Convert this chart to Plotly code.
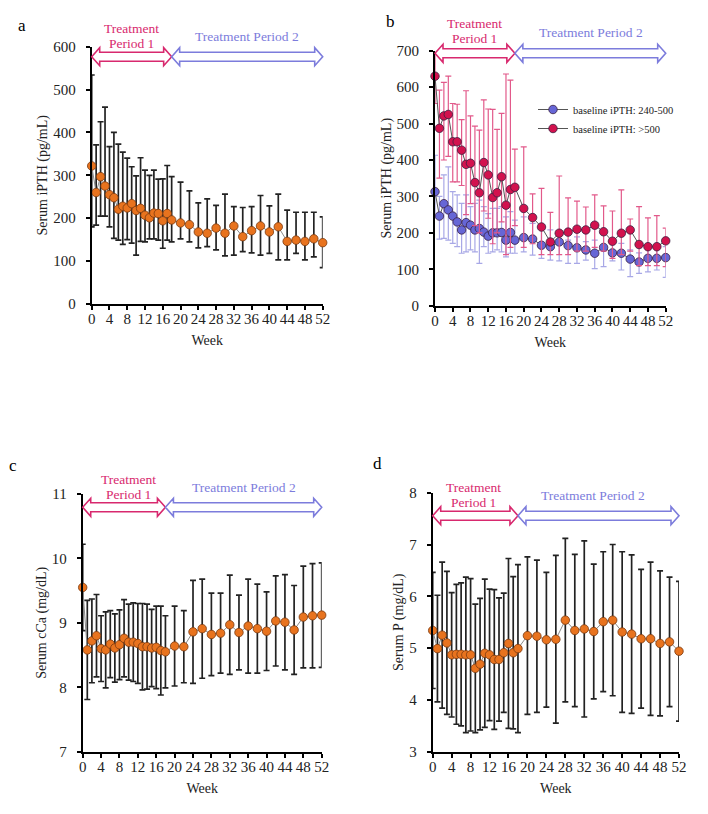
import plotly.graph_objects as go

# weeks: weekly to 18, then every 2 weeks
weeks = list(range(0, 19)) + list(range(20, 53, 2))

# a: serum iPTH, all patients
a_mean = [322, 260, 297, 275, 255, 248, 221, 228, 224, 234, 218, 223, 207, 201, 212, 211, 194, 211, 196,
          189, 185, 168, 165, 177, 165, 182, 157, 171, 182, 168, 180, 146, 149, 146, 152, 143]
a_upper = [534, 371, 425, 459, 367, 400, 373, 354, 340, 320, 299, 341, 312, 300, 312, 291, 292, 323, 297,
           284, 264, 236, 245, 230, 256, 227, 225, 227, 253, 229, 256, 219, 214, 214, 214, 203]
a_lower = [180, 184, 205, 205, 180, 153, 149, 139, 150, 142, 114, 146, 145, 152, 152, 149, 130, 149, 145,
           152, 145, 131, 134, 126, 112, 114, 122, 119, 114, 118, 103, 103, 118, 103, 110, 85]

# b: iPTH by baseline group
b_low_mean = [313, 246, 280, 263, 246, 230, 208, 228, 221, 208, 212, 202, 191, 200, 200, 201, 180, 201, 180,
              187, 183, 166, 162, 175, 165, 159, 153, 144, 160, 145, 144, 128, 120, 130, 130, 132]
b_low_upper = [413, 300, 359, 381, 313, 304, 281, 304, 272, 281, 290, 272, 253, 267, 267, 272, 244, 258, 235,
               244, 226, 212, 208, 203, 180, 189, 176, 180, 199, 176, 171, 153, 145, 157, 157, 162]
b_low_lower = [244, 183, 185, 180, 171, 162, 144, 148, 153, 148, 116, 162, 144, 148, 153, 148, 134, 144, 144,
               148, 139, 130, 125, 123, 116, 116, 125, 102, 107, 123, 98, 80, 89, 93, 98, 78]
b_high_mean = [630, 487, 521, 525, 450, 450, 427, 388, 391, 338, 310, 393, 359, 297, 310, 354, 276, 319, 325,
               267, 242, 216, 175, 199, 202, 210, 208, 221, 203, 177, 199, 208, 168, 162, 162, 178]
b_high_upper = [695, 592, 613, 630, 555, 553, 511, 590, 521, 493, 482, 565, 540, 539, 484, 528, 636, 619, 430,
                436, 307, 322, 256, 356, 296, 287, 271, 304, 274, 260, 318, 238, 272, 241, 247, 213]
b_high_lower = [555, 350, 400, 410, 340, 340, 330, 250, 280, 220, 200, 260, 240, 170, 200, 230, 140, 160, 220,
                160, 170, 140, 140, 140, 140, 150, 150, 160, 150, 130, 140, 150, 110, 110, 110, 107]

# c: serum cCa
c_mean = [9.55, 8.58, 8.72, 8.80, 8.60, 8.58, 8.67, 8.61, 8.66, 8.76, 8.70, 8.70, 8.68, 8.63, 8.63, 8.61, 8.62, 8.57, 8.55,
          8.64, 8.63, 8.86, 8.91, 8.82, 8.84, 8.97, 8.85, 8.95, 8.91, 8.87, 9.03, 9.01, 8.89, 9.09, 9.11, 9.12]
c_sd = [0.67, 0.77, 0.65, 0.64, 0.51, 0.59, 0.52, 0.53, 0.54, 0.60, 0.59, 0.61, 0.62, 0.67, 0.66, 0.60, 0.64, 0.69, 0.56,
        0.62, 0.56, 0.80, 0.77, 0.64, 0.62, 0.77, 0.58, 0.73, 0.69, 0.61, 0.70, 0.74, 0.69, 0.79, 0.81, 0.81]

# d: serum P
d_mean = [5.34, 4.99, 5.25, 5.10, 4.87, 4.88, 4.88, 4.87, 4.87, 4.61, 4.69, 4.90, 4.87, 4.78, 4.78, 4.91, 5.09, 4.91, 4.99,
          5.24, 5.23, 5.16, 5.17, 5.54, 5.34, 5.37, 5.32, 5.51, 5.54, 5.31, 5.27, 5.18, 5.18, 5.09, 5.12, 4.94]
d_sd = [1.12, 1.03, 1.41, 1.38, 1.20, 1.35, 1.38, 1.50, 1.47, 1.24, 1.27, 1.43, 1.27, 1.35, 1.19, 1.15, 1.64, 1.47, 1.62,
        1.52, 1.47, 1.30, 1.62, 1.58, 1.47, 1.70, 1.30, 1.35, 1.46, 1.55, 1.53, 1.34, 1.48, 1.40, 1.25, 1.35]

period_edges = [0, 18, 52]
period_lines = [["Treatment", "Period 1"], ["Treatment Period 2"]]
period_colors = ["#D8296E", "#7C7CDC"]

FONT = "Liberation Serif, Times New Roman, serif"
ORANGE = "#E8731E"
PAGE_W, PAGE_H = 708, 814
OFF = 8  # default body margin of the html page
W, H = PAGE_W - 2 * OFF, PAGE_H - 2 * OFF

# panel boxes in page pixels: left, right, top, bottom; period text (week, y px)
panels = {
    "a": dict(box=(91.7, 322.7, 46.7, 304.0), yr=[0, 600], dt=100, title="Serum iPTH (pg/mL)",
              arrow_y=56.7, txt=[(8.9, 35.5), (34.9, 36.7)], letter=(21.7, 26)),
    "b": dict(box=(435.0, 665.7, 50.7, 305.7), yr=[0, 700], dt=100, title="Serum iPTH (pg/mL)",
              arrow_y=53.3, txt=[(9.0, 31.3), (35.2, 32.7)], letter=(390.7, 21.7)),
    "c": dict(box=(82.7, 321.7, 494.0, 751.7), yr=[7, 11], dt=1, title="Serum cCa (mg/dL)",
              arrow_y=507.3, txt=[(10.0, 487.2), (35.2, 487.7)], letter=(13.3, 465)),
    "d": dict(box=(432.7, 679.0, 492.7, 751.7), yr=[3, 8], dt=1, title="Serum P (mg/dL)",
              arrow_y=515.7, txt=[(8.7, 494.5), (33.9, 495.0)], letter=(377.3, 463.3)),
}

fig = go.Figure()
layout = dict(width=W, height=H, margin=dict(l=0, r=0, t=0, b=0, autoexpand=False),
              paper_bgcolor="white", plot_bgcolor="white",
              font=dict(family=FONT, size=14, color="#222"))
shapes, annots = [], []


def orange_trace(ax, mean, up=None, lo=None, sd=None):
    if sd is not None:
        err = dict(type="data", array=sd, color="#222", thickness=1.7, width=3)
    else:
        err = dict(type="data", symmetric=False,
                   array=[u - m for u, m in zip(up, mean)],
                   arrayminus=[m - l for m, l in zip(mean, lo)],
                   color="#222", thickness=1.7, width=3)
    return go.Scatter(x=weeks, y=mean, mode="lines+markers", showlegend=False,
                      line=dict(color="#8a8a8a", width=1),
                      marker=dict(size=8.5, color=ORANGE, line=dict(color="#7a3a10", width=0.8)),
                      error_y=err, cliponaxis=False, xaxis="x" + ax, yaxis="y" + ax)


def arrow_path(x0, x1, yc, hx, hy, sy):
    pts = [(x0, yc), (x0 + hx, yc + hy), (x0 + hx, yc + sy), (x1 - hx, yc + sy), (x1 - hx, yc + hy),
           (x1, yc), (x1 - hx, yc - hy), (x1 - hx, yc - sy), (x0 + hx, yc - sy), (x0 + hx, yc - hy)]
    return "M " + " L ".join(f"{x:.4f},{y:.4f}" for x, y in pts) + " Z"


for i, (key, p) in enumerate(panels.items()):
    n = "" if i == 0 else str(i + 1)
    left, right, top, bottom = [v - OFF for v in p["box"]]
    ph = bottom - top
    pw = right - left
    axis_style = dict(showline=True, linecolor="black", linewidth=2, ticks="outside", ticklen=4,
                      tickwidth=1.5, tickcolor="black", showgrid=False, zeroline=False,
                      automargin=False, tickfont=dict(size=15, color="#222"))
    layout["xaxis" + n] = dict(domain=[left / W, right / W], anchor="y" + n, range=[0, 52],
                               tickvals=list(range(0, 53, 4)), ticklabelstandoff=-4,
                               title=dict(text="Week", font=dict(size=14), standoff=9), **axis_style)
    layout["yaxis" + n] = dict(domain=[1 - bottom / H, 1 - top / H], anchor="x" + n, range=p["yr"],
                               dtick=p["dt"], ticklabelstandoff=7,
                               title=dict(text=p["title"], font=dict(size=14), standoff=2), **axis_style)
    # treatment period arrows (hollow double-headed)
    yc = (bottom - (p["arrow_y"] - OFF)) / ph
    for k in range(2):
        shapes.append(dict(type="path", xref="x" + n + " domain", yref="y" + n + " domain",
                           path=arrow_path(period_edges[k] / 52, period_edges[k + 1] / 52, yc,
                                           8 / pw, 9 / ph, 4.5 / ph),
                           line=dict(color=period_colors[k], width=1.6), fillcolor="white", layer="above"))
        tx, ty = p["txt"][k]
        lines = period_lines[k]
        for j, line in enumerate(lines):
            ly = ty - OFF + 15 * (j - (len(lines) - 1) / 2)
            annots.append(dict(text=line, x=tx, y=(bottom - ly) / ph, xref="x" + n,
                               yref="y" + n + " domain", showarrow=False, yanchor="middle",
                               xanchor="center", font=dict(size=13.5, color=period_colors[k])))
    annots.append(dict(text=key, x=(p["letter"][0] - OFF) / W, y=1 - (p["letter"][1] - OFF) / H,
                       xref="paper", yref="paper", showarrow=False, xanchor="center", yanchor="middle",
                       font=dict(size=17, color="black")))

fig.add_trace(orange_trace("", a_mean, up=a_upper, lo=a_lower))

for name, mean, up, lo, col, ecol in [
    ("baseline iPTH: 240-500", b_low_mean, b_low_upper, b_low_lower, "#6666D6", "#A8A8E6"),
    ("baseline iPTH: >500", b_high_mean, b_high_upper, b_high_lower, "#D2124E", "#E2598A"),
]:
    fig.add_trace(go.Scatter(
        x=weeks, y=mean, name=name, mode="lines+markers", cliponaxis=False,
        line=dict(color="#555", width=1),
        marker=dict(size=8.5, color=col, line=dict(color="#3a2040", width=0.8)),
        error_y=dict(type="data", symmetric=False,
                     array=[u - m for u, m in zip(up, mean)],
                     arrayminus=[m - l for m, l in zip(mean, lo)],
                     color=ecol, thickness=1.2, width=3),
        xaxis="x2", yaxis="y2"))

fig.add_trace(orange_trace("3", c_mean, sd=c_sd))
fig.add_trace(orange_trace("4", d_mean, sd=d_sd))

layout["shapes"] = shapes
layout["annotations"] = annots
layout["legend"] = dict(x=(533 - OFF) / W, y=1 - (95 - OFF) / H, xanchor="left", yanchor="top",
                        bgcolor="rgba(0,0,0,0)", font=dict(size=10.5, color="#222"),
                        tracegroupgap=0, itemwidth=30)
fig.update_layout(**layout)

fig.write_html("out.html", config={"displayModeBar": False})
